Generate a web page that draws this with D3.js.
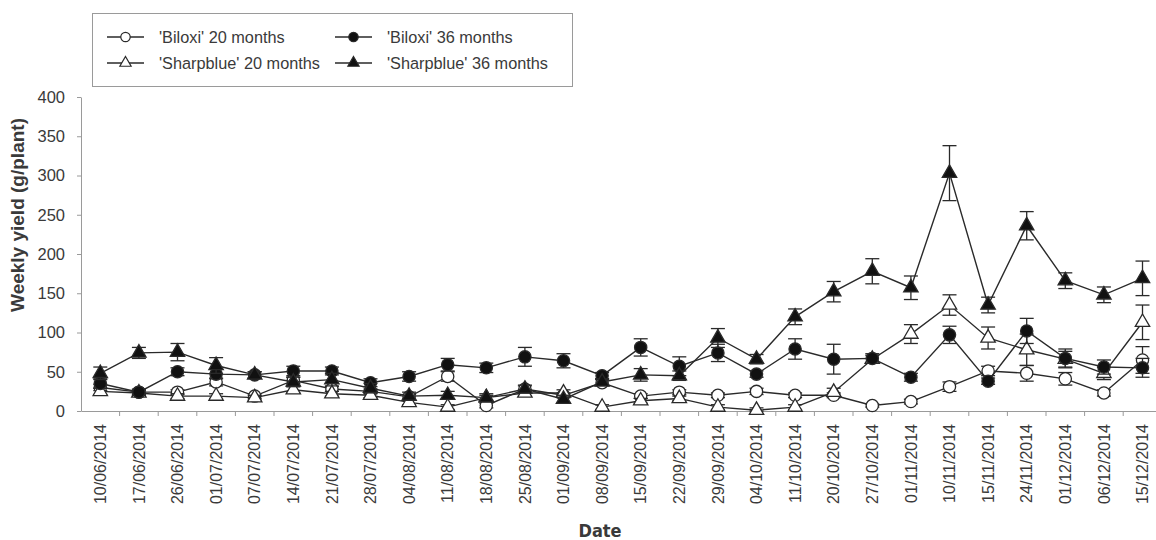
<!DOCTYPE html>
<html>
<head>
<meta charset="utf-8">
<script src="https://cdn.jsdelivr.net/npm/d3@7/dist/d3.min.js"></script>
<style>
  body { margin: 0; background: #fff; }
  text { font-family: "Liberation Sans", Arial, sans-serif; fill: #3a3a3a; }
</style>
</head>
<body>
<div id="vis"></div>
<script>
const width = 1156
const height = 540

// dates on the x axis
const dates = ["10/06/2014", "17/06/2014", "26/06/2014", "01/07/2014", "07/07/2014", "14/07/2014",
    "21/07/2014", "28/07/2014", "04/08/2014", "11/08/2014", "18/08/2014", "25/08/2014",
    "01/09/2014", "08/09/2014", "15/09/2014", "22/09/2014", "29/09/2014", "04/10/2014",
    "11/10/2014", "20/10/2014", "27/10/2014", "01/11/2014", "10/11/2014", "15/11/2014",
    "24/11/2014", "01/12/2014", "06/12/2014", "15/12/2014"]

// weekly yield (g/plant) and standard error
const biloxi20 = [30, 24, 24, 37, 19, 39, 28, 25, 18, 44, 7, 28, 20, 36, 19, 24, 20, 25, 20, 20, 7, 12, 31, 51, 48, 41, 23, 65]
const biloxi20Err = [4, 3, 3, 5, 3, 4, 3, 3, 3, 6, 3, 4, 3, 4, 3, 3, 3, 4, 3, 3, 2, 3, 6, 6, 10, 8, 4, 17]
const sharpblue20 = [25, 23, 19, 19, 17, 27, 22, 20, 11, 5, 17, 23, 23, 5, 13, 16, 5, 1, 5, 24, 66, 98, 135, 93, 78, 66, 48, 113]
const sharpblue20Err = [4, 3, 3, 3, 3, 4, 3, 3, 3, 3, 3, 4, 4, 3, 3, 3, 3, 3, 3, 5, 5, 12, 13, 14, 20, 10, 8, 22]
const biloxi36 = [35, 24, 50, 47, 46, 51, 51, 36, 44, 59, 55, 69, 64, 45, 81, 57, 74, 47, 79, 66, 67, 43, 97, 38, 102, 67, 56, 55]
const biloxi36Err = [6, 4, 5, 6, 4, 6, 5, 5, 6, 8, 6, 12, 9, 4, 11, 12, 11, 4, 13, 19, 6, 5, 11, 4, 16, 12, 9, 12]
const sharpblue36 = [48, 74, 75, 58, 46, 37, 40, 29, 19, 20, 17, 28, 15, 37, 46, 45, 93, 66, 120, 152, 178, 157, 303, 135, 236, 166, 148, 169]
const sharpblue36Err = [8, 7, 11, 10, 4, 6, 8, 6, 5, 5, 5, 5, 5, 4, 8, 6, 12, 6, 10, 13, 16, 15, 35, 10, 18, 10, 10, 22]

const yTicks = [0, 50, 100, 150, 200, 250, 300, 350, 400]

var series = [
    { name: "'Biloxi' 20 months", values: biloxi20, err: biloxi20Err, shape: "circle", fill: "#fff" },
    { name: "'Sharpblue' 20 months", values: sharpblue20, err: sharpblue20Err, shape: "triangle", fill: "#fff" },
    { name: "'Biloxi' 36 months", values: biloxi36, err: biloxi36Err, shape: "circle", fill: "#111" },
    { name: "'Sharpblue' 36 months", values: sharpblue36, err: sharpblue36Err, shape: "triangle", fill: "#111" }
]

const ink = "#2a2a2a"
const axisColor = "#9a9a9a"

var svg = d3.select("#vis")
    .append("svg")
    .attr("width", width)
    .attr("height", height)

var x = d3.scaleBand()
    .domain(dates)
    .range([81, 81 + 38.6 * dates.length])

var y = d3.scaleLinear()
    .domain([0, 400])
    .range([411, 97])

const cx = (i) => x(dates[i]) + x.bandwidth() / 2

// y axis
var yAxis = svg.append("g")
    .attr("transform", "translate(81,0)")
    .call(d3.axisLeft(y).tickValues(yTicks).tickSize(4).tickSizeOuter(0).tickPadding(12))
yAxis.select(".domain").attr("stroke", axisColor)
yAxis.selectAll(".tick line").attr("stroke", axisColor)
yAxis.selectAll(".tick text").attr("font-size", 16.5).attr("fill", "#3a3a3a")
    .style("font-family", "'Liberation Sans', Arial, sans-serif")

// x axis: labels at band centres, tick marks at band edges
var xAxis = svg.append("g")
    .attr("transform", "translate(0,411)")
    .call(d3.axisBottom(x).tickSize(0).tickSizeOuter(0))
xAxis.select(".domain").attr("stroke", axisColor)
xAxis.selectAll(".tick text")
    .attr("transform", "rotate(-90)")
    .attr("x", -13)
    .attr("y", 0)
    .attr("dy", "0.36em")
    .attr("font-size", 16)
    .attr("fill", "#3a3a3a")
    .style("font-family", "'Liberation Sans', Arial, sans-serif")
    .style("text-anchor", "end")

svg.append("g")
    .selectAll("line")
    .data(dates.slice(1))
    .join("line")
    .attr("x1", (d) => x(d))
    .attr("x2", (d) => x(d))
    .attr("y1", 411)
    .attr("y2", 416)
    .attr("stroke", axisColor)

// axis titles
svg.append("text")
    .attr("transform", "translate(24,215) rotate(-90)")
    .attr("text-anchor", "middle")
    .attr("font-size", 19)
    .attr("font-weight", "bold")
    .attr("fill", "#222")
    .text("Weekly yield (g/plant)")

svg.append("text")
    .attr("x", 600)
    .attr("y", 537)
    .attr("text-anchor", "middle")
    .attr("font-size", 18)
    .attr("font-weight", "bold")
    .attr("fill", "#222")
    .style("font-family", "'DejaVu Sans Condensed', 'Liberation Sans Narrow', sans-serif")
    .style("font-stretch", "condensed")
    .text("Date")

var line = d3.line()
    .x((d, i) => cx(i))
    .y((d) => y(d))

var triangle = d3.symbol().type(d3.symbolTriangle).size(90)
var circle = d3.symbol().type(d3.symbolCircle).size(118)

var groups = svg.selectAll(".series")
    .data(series)
    .join("g")
    .attr("class", "series")

groups.append("path")
    .attr("d", (s) => line(s.values))
    .attr("fill", "none")
    .attr("stroke", ink)
    .attr("stroke-width", 1.4)

// error bars
groups.each(function (s) {
    var g = d3.select(this)
    var bars = g.selectAll(".err")
        .data(s.values.map((v, i) => ({ v: v, e: s.err[i], i: i })))
        .join("g")
        .attr("class", "err")
        .attr("stroke", ink)
        .attr("stroke-width", 1.3)
    bars.append("line")
        .attr("x1", (d) => cx(d.i)).attr("x2", (d) => cx(d.i))
        .attr("y1", (d) => y(d.v + d.e)).attr("y2", (d) => y(Math.max(0, d.v - d.e)))
    bars.append("line")
        .attr("x1", (d) => cx(d.i) - 7).attr("x2", (d) => cx(d.i) + 7)
        .attr("y1", (d) => y(d.v + d.e)).attr("y2", (d) => y(d.v + d.e))
    bars.append("line")
        .attr("x1", (d) => cx(d.i) - 7).attr("x2", (d) => cx(d.i) + 7)
        .attr("y1", (d) => y(Math.max(0, d.v - d.e))).attr("y2", (d) => y(Math.max(0, d.v - d.e)))
})

// markers
groups.each(function (s) {
    var g = d3.select(this)
    g.selectAll(".pt")
        .data(s.values)
        .join("path")
        .attr("class", "pt")
        .attr("d", s.shape == "circle" ? circle : triangle)
        .attr("transform", (d, i) => `translate(${cx(i)},${y(d)})`)
        .attr("fill", s.fill)
        .attr("stroke", ink)
        .attr("stroke-width", 1.3)
})

// legend
var legend = svg.append("g")
legend.append("rect")
    .attr("x", 92.5)
    .attr("y", 13.5)
    .attr("width", 480)
    .attr("height", 73)
    .attr("fill", "#fff")
    .attr("stroke", axisColor)

var legendPos = [[107, 37], [107, 63], [335, 37], [335, 63]]

var items = legend.selectAll(".item")
    .data(series)
    .join("g")
    .attr("class", "item")
    .attr("transform", (s, i) => `translate(${legendPos[i][0]},${legendPos[i][1]})`)

items.append("line")
    .attr("x1", 0).attr("x2", 37)
    .attr("stroke", ink)
    .attr("stroke-width", 1.3)

items.append("path")
    .attr("d", (s) => s.shape == "circle"
        ? d3.symbol().type(d3.symbolCircle).size(70)()
        : d3.symbol().type(d3.symbolTriangle).size(55)())
    .attr("transform", "translate(18.5,0)")
    .attr("fill", (s) => s.fill)
    .attr("stroke", ink)
    .attr("stroke-width", 1.2)

items.append("text")
    .attr("x", 52)
    .attr("dy", "0.36em")
    .attr("font-size", 16.3)
    .text((s) => s.name)
</script>
</body>
</html>
